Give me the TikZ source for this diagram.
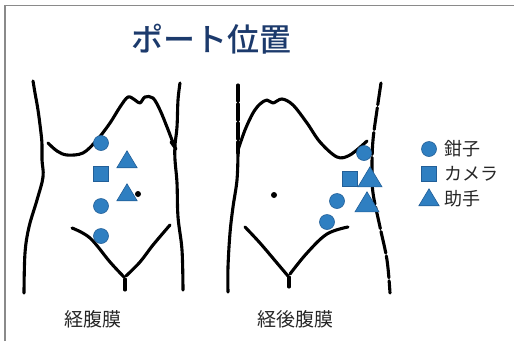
\documentclass[tikz,border=0pt]{standalone}
\usepackage{fontspec}
\newfontfamily\jp{Noto Sans CJK JP}
\newfontfamily\jpmed{Noto Sans CJK JP Medium}
\usetikzlibrary{shapes.geometric}
\definecolor{titleblue}{HTML}{1C3A6C}
\definecolor{portfill}{HTML}{2F7FC1}
\definecolor{portedge}{HTML}{225F98}
\definecolor{framegray}{HTML}{8A8A8A}
\tikzset{
  outline/.style={line width=3.1pt, line cap=round, line join=round, black},
  forceps/.style={circle, fill=portfill, draw=portedge, line width=0.6pt, minimum size=15pt, inner sep=0pt},
  camera/.style={rectangle, fill=portfill, draw=portedge, line width=0.6pt, minimum size=15pt, inner sep=0pt},
  assist/.style={isosceles triangle, shape border rotate=90, isosceles triangle apex angle=62,
    fill=portfill, draw=portedge, line width=0.6pt, minimum height=17pt, inner sep=0pt},
  navel/.style={circle, fill=black, minimum size=6pt, inner sep=0pt},
  caption/.style={font=\jp\fontsize{19}{20}\selectfont, text=black!85},
  legendtext/.style={font=\jp\fontsize{18}{19}\selectfont, text=black!85, anchor=west},
}
\begin{document}
\begin{tikzpicture}[x=1pt, y=-1pt]
\useasboundingbox (0,0) rectangle (514,341);
% frame
\draw[framegray, line width=1.3pt] (5,341) -- (5,5.5) -- (514,5.5);

% title
\node[font=\jpmed\fontsize{32}{34}\selectfont, text=titleblue] (title) at (211,39) {ポート位置};

% ---------- transperitoneal torso ----------
\draw[outline] plot[smooth, tension=0.6] coordinates
  {(33,81) (35,93) (38,110) (41,133) (42,145) (42,160) (43,177) (37,200) (29,227) (25,253) (24,293)};
\draw[outline] plot[smooth, tension=0.6] coordinates
  {(180,83) (178,100) (177,127) (175,145) (175,160) (177,183) (178,217) (182,250) (183,290)};
\draw[outline] plot[smooth, tension=0.55] coordinates
  {(48,143) (57,151) (67,155) (83,153) (97,140) (110,123) (120,107) (128,97) (135,100) (140,103) (145,97) (153,98) (160,110) (167,127) (172,140) (175,147)};
\draw[outline] (171,142) -- (176,149);
\draw[outline] plot[smooth, tension=0.6] coordinates
  {(72,228) (90,238) (110,262) (124,277)};
\draw[outline] plot[smooth, tension=0.6] coordinates
  {(170,225) (153,245) (140,262) (126,276)};
\draw[outline] (125,279) -- (125,290);
\node[navel] (navelA) at (138,194) {};

\node[forceps] (fA1) at (101,143) {};
\node[camera]  (cA)  at (101,174) {};
\node[forceps] (fA2) at (101,206) {};
\node[forceps] (fA3) at (101,236) {};
\node[assist]  (aA1) at (127,162) {};
\node[assist]  (aA2) at (127,195) {};

% ---------- retroperitoneal torso ----------
\draw[outline, dash pattern=on 16pt off 3pt] plot[smooth, tension=0.6] coordinates
  {(238,85) (238,100) (238,133) (238,153)};
\draw[outline] plot[smooth, tension=0.6] coordinates
  {(238,153) (237,180) (233,207) (230,233) (228,267) (228,292)};
\draw[outline] plot[smooth, tension=0.55] coordinates
  {(238,150) (245,130) (253,113) (260,104) (267,100) (273,103) (282,99) (293,105) (307,123) (320,142) (337,157) (350,155) (367,141)};
\draw[outline, dash pattern=on 22pt off 3pt] plot[smooth, tension=0.6] coordinates
  {(381,83) (377,110) (373,140) (372,167) (373,193) (380,227) (387,260) (390,293)};
\draw[outline] plot[smooth, tension=0.6] coordinates
  {(245,227) (260,243) (277,263) (288,276)};
\draw[outline] plot[smooth, tension=0.6] coordinates
  {(348,227) (327,234) (307,253) (290,274)};
\draw[outline] (289,277) -- (289,287);
\node[navel] (navelB) at (274,195) {};

\node[forceps] (fB1) at (364,153) {};
\node[camera]  (cB)  at (350,179) {};
\node[forceps] (fB2) at (337,201) {};
\node[forceps] (fB3) at (327,222) {};
\node[assist, minimum height=20pt] (aB1) at (370,180) {};
\node[assist, minimum height=20pt] (aB2) at (367,205) {};

% captions
\node[caption] (capA) at (93,319) {経腹膜};
\node[caption] (capB) at (295,319) {経後腹膜};

% legend
\node[forceps] (lgF) at (429,149) {};
\node[camera]  (lgC) at (429,174) {};
\node[assist]  (lgA) at (429,200) {};
\node[legendtext] (lgFt) at (441,149) {鉗子};
\node[legendtext] (lgCt) at (441,174) {カメラ};
\node[legendtext] (lgAt) at (441,199) {助手};
\end{tikzpicture}
\end{document}
